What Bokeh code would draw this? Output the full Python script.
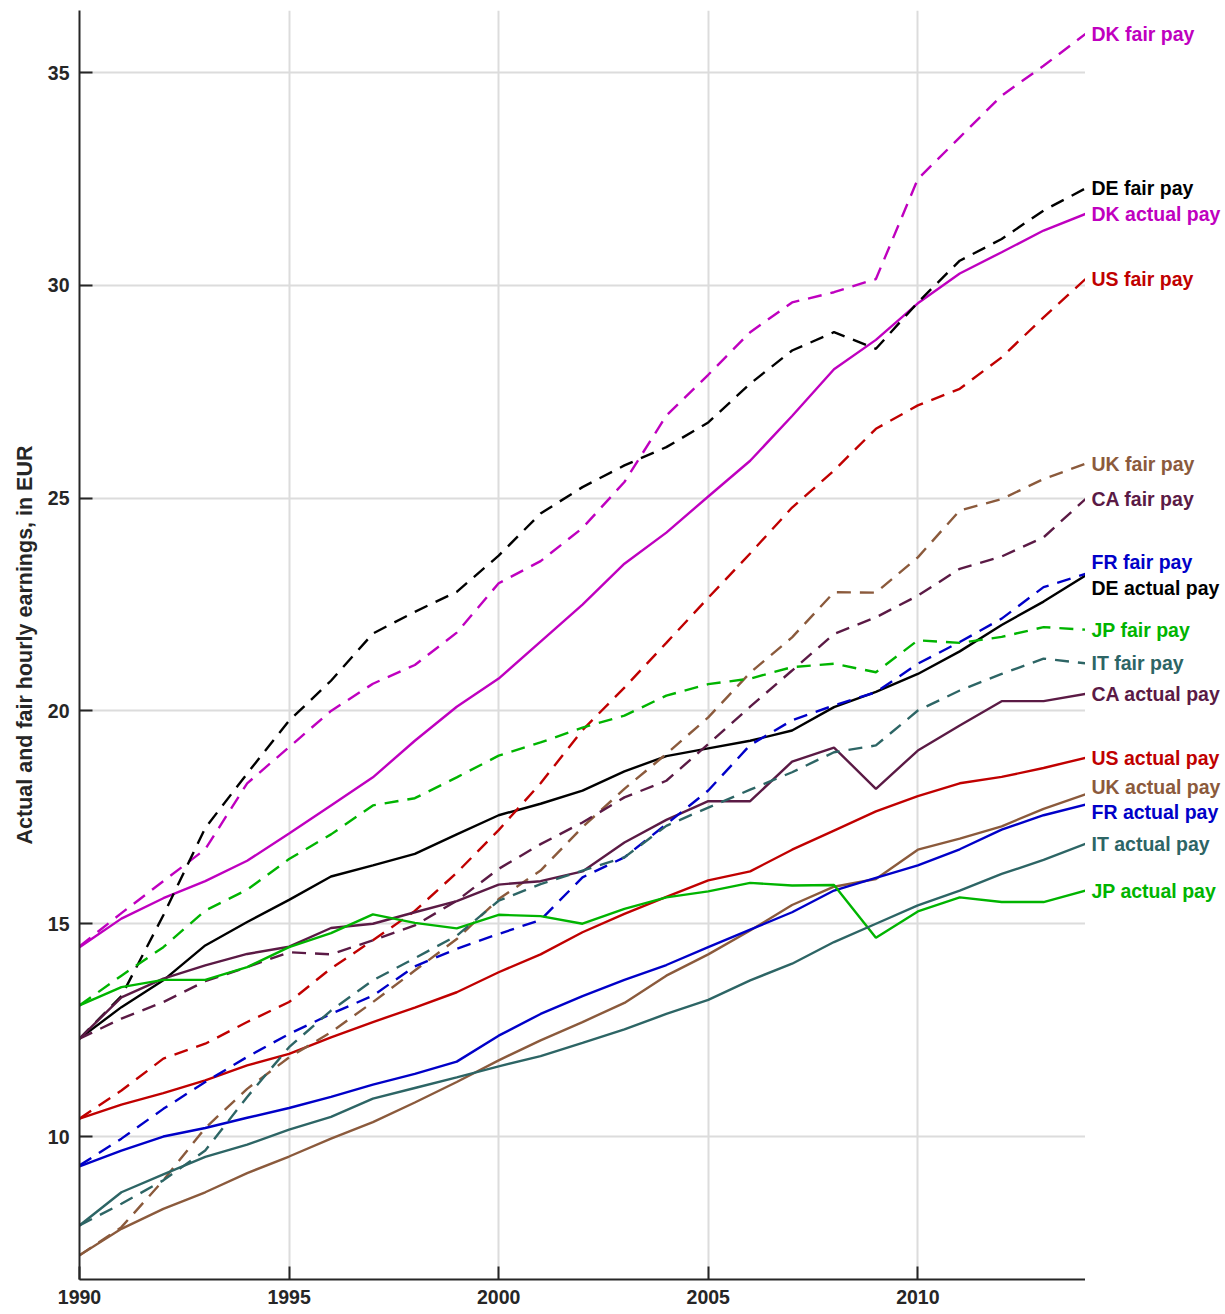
from bokeh.plotting import figure
from bokeh.layouts import row
from bokeh.models import Range1d, FixedTicker
from bokeh.core.properties import value
from bokeh.embed import file_html
from bokeh.resources import INLINE

years = list(range(1990, 2015))

DK_fair = [14.47, 15.25, 16.0, 16.75, 18.3, 19.15, 20.0, 20.64, 21.08, 21.84, 23.0, 23.52, 24.3, 25.38, 26.94,
           27.9, 28.9, 29.6, 29.84, 30.15, 32.5, 33.48, 34.46, 35.16, 35.91]
DK_actual = [14.45, 15.12, 15.6, 16.0, 16.48, 17.12, 17.78, 18.44, 19.3, 20.1, 20.76, 21.63, 22.5, 23.46, 24.19,
             25.04, 25.88, 26.93, 28.03, 28.72, 29.58, 30.28, 30.78, 31.29, 31.68]
DE_fair = [12.3, 13.3, 15.2, 17.25, 18.53, 19.77, 20.71, 21.82, 22.33, 22.8, 23.65, 24.64, 25.26, 25.77, 26.2,
           26.78, 27.69, 28.47, 28.9, 28.51, 29.6, 30.58, 31.09, 31.76, 32.28]
DE_actual = [12.3, 13.04, 13.67, 14.49, 15.04, 15.56, 16.11, 16.37, 16.64, 17.1, 17.55, 17.82, 18.13, 18.58, 18.94,
             19.12, 19.3, 19.54, 20.09, 20.45, 20.87, 21.4, 22.02, 22.57, 23.18]
US_fair = [10.42, 11.08, 11.83, 12.18, 12.69, 13.16, 13.95, 14.61, 15.3, 16.2, 17.2, 18.3, 19.55, 20.55, 21.6,
           22.66, 23.7, 24.78, 25.65, 26.63, 27.18, 27.57, 28.31, 29.25, 30.15]
US_actual = [10.42, 10.75, 11.02, 11.32, 11.67, 11.94, 12.33, 12.69, 13.03, 13.39, 13.86, 14.28, 14.8, 15.23, 15.63,
             16.02, 16.23, 16.74, 17.19, 17.64, 18.0, 18.3, 18.45, 18.66, 18.9]
UK_fair = [7.21, 7.87, 8.97, 10.2, 11.12, 11.86, 12.45, 13.16, 13.9, 14.64, 15.58, 16.25, 17.27, 18.17, 18.99,
           19.85, 20.9, 21.73, 22.79, 22.78, 23.61, 24.71, 24.98, 25.45, 25.81]
UK_actual = [7.21, 7.83, 8.3, 8.69, 9.14, 9.53, 9.95, 10.34, 10.8, 11.28, 11.79, 12.26, 12.69, 13.14, 13.78,
             14.28, 14.84, 15.44, 15.87, 16.05, 16.74, 17.0, 17.29, 17.7, 18.04]
CA_fair = [12.3, 12.77, 13.16, 13.65, 13.98, 14.33, 14.28, 14.61, 14.96, 15.54, 16.29, 16.87, 17.38, 17.97, 18.36,
           19.22, 20.1, 20.95, 21.81, 22.2, 22.71, 23.34, 23.63, 24.08, 24.98]
CA_actual = [12.3, 13.27, 13.71, 14.02, 14.29, 14.46, 14.9, 15.0, 15.27, 15.53, 15.92, 16.0, 16.23, 16.91, 17.44,
             17.88, 17.88, 18.81, 19.14, 18.17, 19.07, 19.66, 20.23, 20.23, 20.4]
FR_fair = [9.32, 9.95, 10.65, 11.28, 11.87, 12.41, 12.88, 13.31, 14.0, 14.41, 14.76, 15.09, 16.09, 16.56, 17.34,
           18.13, 19.2, 19.78, 20.13, 20.44, 21.11, 21.62, 22.17, 22.91, 23.22]
FR_actual = [9.3, 9.67, 10.0, 10.2, 10.44, 10.67, 10.93, 11.22, 11.47, 11.76, 12.37, 12.88, 13.3, 13.68, 14.03,
             14.45, 14.86, 15.27, 15.78, 16.08, 16.37, 16.75, 17.21, 17.55, 17.8]
JP_fair = [13.08, 13.78, 14.45, 15.31, 15.8, 16.52, 17.1, 17.78, 17.95, 18.44, 18.95, 19.26, 19.61, 19.89, 20.36,
           20.63, 20.76, 21.03, 21.11, 20.91, 21.66, 21.6, 21.74, 21.97, 21.91]
JP_actual = [13.08, 13.51, 13.68, 13.68, 13.98, 14.45, 14.78, 15.22, 15.02, 14.89, 15.21, 15.18, 15.0, 15.35, 15.62,
             15.76, 15.96, 15.9, 15.91, 14.67, 15.29, 15.62, 15.51, 15.51, 15.78]
IT_fair = [7.91, 8.42, 8.97, 9.67, 10.93, 12.1, 12.96, 13.67, 14.19, 14.72, 15.54, 15.93, 16.25, 16.56, 17.3,
           17.73, 18.15, 18.56, 19.03, 19.19, 20.01, 20.48, 20.87, 21.23, 21.12]
IT_actual = [7.91, 8.69, 9.11, 9.52, 9.81, 10.16, 10.46, 10.89, 11.14, 11.39, 11.65, 11.89, 12.2, 12.52, 12.88,
             13.21, 13.67, 14.06, 14.57, 15.0, 15.43, 15.78, 16.17, 16.5, 16.88]

countries = ["DK", "DE", "US", "UK", "CA", "FR", "JP", "IT"]
colors = {"DK": "#bf00bf", "DE": "#000000", "US": "#c00000", "UK": "#8b5a3c",
          "CA": "#5b1a45", "FR": "#0000c8", "JP": "#00b400", "IT": "#2d6565"}
fair = {"DK": DK_fair, "DE": DE_fair, "US": US_fair, "UK": UK_fair,
        "CA": CA_fair, "FR": FR_fair, "JP": JP_fair, "IT": IT_fair}
actual = {"DK": DK_actual, "DE": DE_actual, "US": US_actual, "UK": UK_actual,
          "CA": CA_actual, "FR": FR_actual, "JP": JP_actual, "IT": IT_actual}

x_ticks = [1990, 1995, 2000, 2005, 2010]
y_ticks = [10, 15, 20, 25, 30, 35]
y_label = "Actual and fair hourly earnings, in EUR"

FONT = "Liberation Sans"
AXC = "#262626"
FH = 1269
yr = Range1d(6.64, 36.46)

p = figure(frame_width=1006, frame_height=FH, output_backend="svg", toolbar_location=None,
           x_range=Range1d(1990, 2014), y_range=yr,
           min_border_left=79, min_border_right=0, min_border_top=10, min_border_bottom=30)
p.outline_line_color = None
p.background_fill_color = "white"

for ax in (p.xaxis[0], p.yaxis[0]):
    ax.axis_line_color = AXC
    ax.axis_line_width = 2
    ax.major_tick_line_color = AXC
    ax.major_tick_line_width = 2
    ax.major_tick_in = 13
    ax.major_tick_out = 0
    ax.minor_tick_line_color = None
    ax.major_label_text_font = FONT
    ax.major_label_text_font_size = "19.5px"
    ax.major_label_text_font_style = "bold"
    ax.major_label_text_color = AXC

p.xaxis[0].ticker = FixedTicker(ticks=x_ticks)
p.yaxis[0].ticker = FixedTicker(ticks=y_ticks)
p.xaxis[0].major_label_standoff = 10
p.yaxis[0].major_label_standoff = 10
p.yaxis[0].axis_label = y_label
p.yaxis[0].axis_label_text_font = FONT
p.yaxis[0].axis_label_text_font_size = "21.5px"
p.yaxis[0].axis_label_text_font_style = "bold"
p.yaxis[0].axis_label_text_color = AXC
p.yaxis[0].axis_label_standoff = 8

p.xgrid.ticker = FixedTicker(ticks=x_ticks)
p.ygrid.ticker = FixedTicker(ticks=y_ticks)
for g in (p.xgrid[0], p.ygrid[0]):
    g.grid_line_color = "#dcdcdc"
    g.grid_line_width = 2

for c in countries:
    p.line(years, fair[c], line_color=colors[c], line_width=2.4, line_dash="14 9")
    p.line(years, actual[c], line_color=colors[c], line_width=2.4)

# end labels, spread to avoid overlap
items = []
for c in countries:
    items.append([fair[c][-1], c + " fair pay", colors[c]])
    items.append([actual[c][-1], c + " actual pay", colors[c]])
pos = [it[0] for it in items]
gap = 0.6
order = sorted(range(len(pos)), key=lambda i: pos[i])
for _ in range(200):
    moved = False
    for a, b in zip(order[:-1], order[1:]):
        d = pos[b] - pos[a]
        if d < gap - 1e-6:
            shift = (gap - d) / 2
            pos[a] -= shift
            pos[b] += shift
            moved = True
    if not moved:
        break

p2 = figure(frame_width=137, frame_height=FH, output_backend="svg", toolbar_location=None,
            x_range=Range1d(0, 1), y_range=yr, x_axis_type=None, y_axis_type=None,
            min_border_left=0, min_border_right=0, min_border_top=10, min_border_bottom=30)
p2.outline_line_color = None
p2.xgrid.visible = False
p2.ygrid.visible = False
p2.text(x=[0] * len(items), y=pos, text=[it[1] for it in items],
        text_color=[it[2] for it in items], x_offset=6,
        text_font=value(FONT), text_font_size=value("19.5px"), text_font_style="bold",
        text_baseline="middle", text_align="left")

layout = row(p, p2)
open("out.html", "w").write(file_html(layout, INLINE))
